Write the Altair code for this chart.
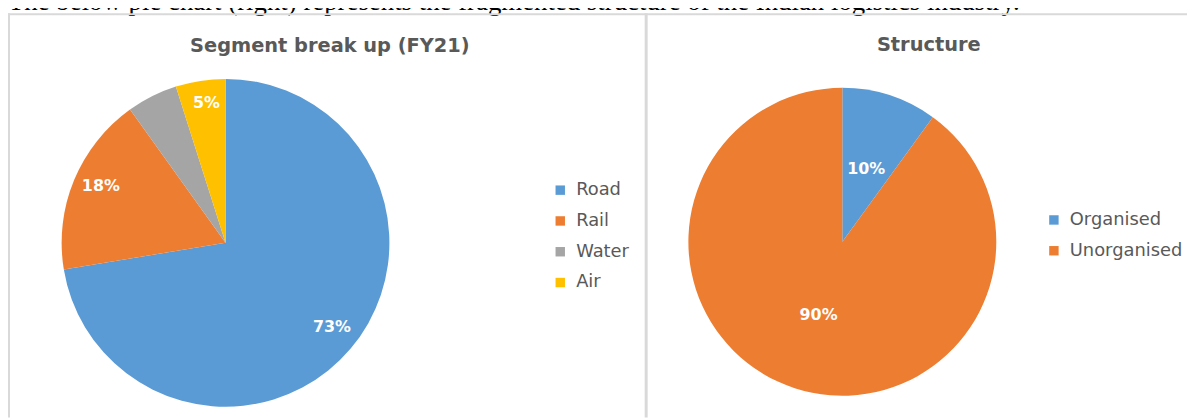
import altair as alt
import pandas as pd

# ---- data ----
seg_categories = ["Road", "Rail", "Water", "Air"]
seg_values = [72.4, 17.7, 5.0, 4.9]
seg_labels = ["73%", "18%", "", "5%"]
seg_colors = ["#5B9BD5", "#ED7D31", "#A5A5A5", "#FFC000"]

str_categories = ["Organised", "Unorganised"]
str_values = [10, 90]
str_labels = ["10%", "90%"]
str_colors = ["#5B9BD5", "#ED7D31"]

title_left = "Segment break up (FY21)"
title_right = "Structure"
caption = ("The below pie chart (right) represents the fragmented structure "
           "of the Indian logistics industry.")

seg_df = pd.DataFrame({"idx": range(len(seg_categories)), "category": seg_categories,
                       "value": seg_values, "label": seg_labels})
str_df = pd.DataFrame({"idx": range(len(str_categories)), "category": str_categories,
                       "value": str_values, "label": str_labels})

FONT = "DejaVu Sans"
GREY = "#595959"
BORDER = "#d9d9d9"

# centres (chart coords = page - 8)
LCX, LCY, LR = 219, 235, 165
RCX, RCY, RR = 840, 234, 155


def legend(x, y):
    return alt.Legend(orient="none", legendX=x, legendY=y, title=None,
                      symbolType="square", symbolSize=90, symbolStrokeWidth=0,
                      labelFont=FONT, labelFontSize=18, labelColor=GREY,
                      labelOffset=7, rowPadding=13, padding=0)


left_arc = alt.Chart(seg_df).mark_arc(radius=LR).encode(
    theta=alt.Theta("value:Q", stack=True),
    color=alt.Color("category:N",
                    scale=alt.Scale(domain=seg_categories, range=seg_colors),
                    legend=legend(547, 173)),
    order=alt.Order("idx:Q"),
    x=alt.value(LCX), y=alt.value(LCY),
)
left_text = alt.Chart(seg_df).mark_text(
    radius=138, dy=-4, dx=2, font=FONT, fontSize=16, fontWeight="bold", color="white",
    align="center", baseline="middle",
).encode(
    theta=alt.Theta("value:Q", stack=True),
    text="label:N",
    detail="category:N",
    order=alt.Order("idx:Q"),
    x=alt.value(LCX), y=alt.value(LCY),
)
left = alt.layer(left_arc, left_text)

right_arc = alt.Chart(str_df).mark_arc(radius=RR).encode(
    theta=alt.Theta("value:Q", stack=True),
    color=alt.Color("category:N",
                    scale=alt.Scale(domain=str_categories, range=str_colors),
                    legend=legend(1044, 203)),
    order=alt.Order("idx:Q"),
    x=alt.value(RCX), y=alt.value(RCY),
)
right_text = alt.Chart(str_df).mark_text(
    radius=77.5, font=FONT, fontSize=16, fontWeight="bold", color="white",
    align="center", baseline="middle",
).encode(
    theta=alt.Theta("value:Q", stack=True),
    text="label:N",
    detail="category:N",
    order=alt.Order("idx:Q"),
    x=alt.value(RCX), y=alt.value(RCY),
)
right = alt.layer(right_arc, right_text)

one = pd.DataFrame({"a": [0]})


def title_mark(txt, x, y):
    return alt.Chart(pd.DataFrame({"t": [txt]})).mark_text(
        font=FONT, fontSize=19.5, fontWeight="bold", color=GREY,
        align="center", baseline="middle",
    ).encode(text="t:N", x=alt.value(x), y=alt.value(y))


t_left = title_mark(title_left, 324, 37)
t_right = title_mark(title_right, 927, 36)

cap = alt.Chart(pd.DataFrame({"t": [caption]})).mark_text(
    font="Liberation Serif", fontSize=27, color="black",
    align="left", baseline="alphabetic",
).encode(text="t:N", x=alt.value(0), y=alt.value(0.5))


def rule(x, x2, y, y2, w=2):
    return alt.Chart(one).mark_rule(color=BORDER, strokeWidth=w).encode(
        x=alt.value(x), x2=alt.value(x2), y=alt.value(y), y2=alt.value(y2))


borders = [
    rule(0, 1187, 5, 5),
    rule(1, 1, 4, 411),
    rule(642.5, 642.5, 4, 411, 3),
]

chart = alt.layer(left, right, t_left, t_right, cap, *borders).resolve_scale(
    color="independent", theta="independent"
).properties(
    width=1187, height=411, padding=0, autosize=alt.AutoSizeParams(type="none")
).configure_view(stroke=None)

chart.save("out.html", embed_options={"renderer": "svg", "actions": False})
